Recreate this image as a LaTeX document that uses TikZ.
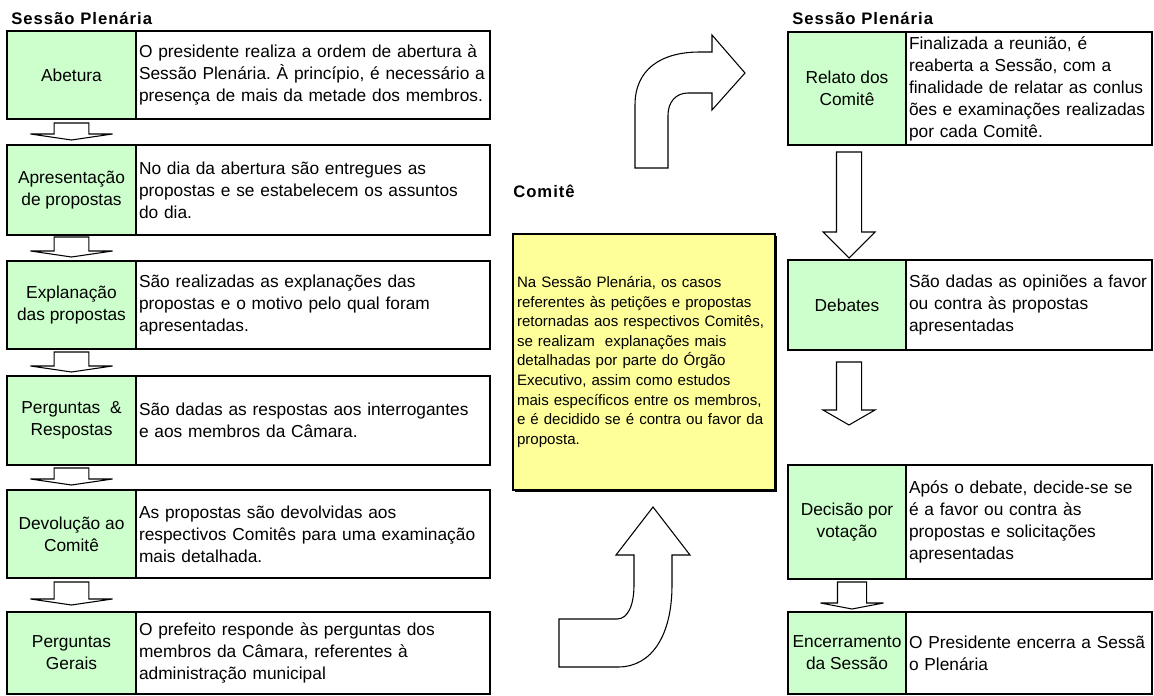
\documentclass[tikz,border=0pt]{standalone}
\usepackage{fontspec}
\setmainfont{Liberation Sans}
\newfontfamily\titlefont[LetterSpace=6]{Liberation Sans}
\usetikzlibrary{positioning,calc,shadows}
\frenchspacing

\definecolor{lblgreen}{HTML}{CCFFCC}
\definecolor{noteyellow}{HTML}{FFFF99}
\newcommand{\bodysize}{\fontsize{13pt}{16.5pt}\selectfont}
\newcommand{\notesize}{\fontsize{11.3pt}{14.7pt}\selectfont}

% hollow block arrow pointing down: start, tip, stem half, head half, head length
\newcommand{\blockdown}[5]{%
  \draw[blk] let \p1=#1, \p2=#2 in
    (\x1-#3,\y1) -- (\x1-#3,\y2+#5) -- (\x1-#4,\y2+#5) -- (\x1,\y2)
    -- (\x1+#4,\y2+#5) -- (\x1+#3,\y2+#5) -- (\x1+#3,\y1) -- cycle;}

\begin{document}
\begin{tikzpicture}[x=0.75pt,y=-0.75pt]
\tikzstyle{lbl}=[draw, line width=1.5pt, fill=lblgreen, outer sep=0pt, inner sep=2pt,
  align=center, anchor=north west, font=\bodysize]
\tikzstyle{lblL}=[lbl, minimum width=96.75pt]
\tikzstyle{lblR}=[lbl, minimum width=88.5pt]
\tikzstyle{txt}=[draw, line width=1.5pt, fill=white, outer sep=0pt, inner xsep=2.25pt,
  align=left, font=\bodysize]
\tikzstyle{txtL}=[txt, text width=261pt]
\tikzstyle{txtR}=[txt, text width=180pt]
\tikzstyle{ttl}=[inner sep=0pt, anchor=base west,
  font={\titlefont\fontsize{12.5pt}{15pt}\selectfont\bfseries}]
\tikzstyle{note}=[draw, line width=1.5pt, fill=noteyellow, outer sep=0pt, inner xsep=3pt,
  align=left, font=\notesize, drop shadow={shadow xshift=1.5pt, shadow yshift=-1.5pt, fill=black, opacity=1}]
\tikzstyle{blk}=[draw=black, fill=white, line width=0.8pt, line join=miter]

\useasboundingbox (0,0) rectangle (1154,696);

% left column
\node[ttl] (title-left) at (11,25) {Sessão Plenária};

\node[lblL, minimum height=66pt]    (abertura) at (7,31)  {Abetura};
\node[txtL, minimum height=66pt, right=0pt of abertura] (abertura-txt)
  {O presidente realiza a ordem de abertura à\\Sessão Plenária. À princípio, é necessário a\\presença de mais da metade dos membros.};

\node[lblL, minimum height=67.5pt]  (apresent) at (7,145) {Apresentação\\de propostas};
\node[txtL, minimum height=67.5pt, right=0pt of apresent] (apresent-txt)
  {No dia da abertura são entregues as\\propostas e se estabelecem os assuntos\\do dia.};

\node[lblL, minimum height=66pt]    (explan) at (7,261) {Explanação\\das propostas};
\node[txtL, minimum height=66pt, right=0pt of explan] (explan-txt)
  {São realizadas as explanações das\\propostas e o motivo pelo qual foram\\apresentadas.};

\node[lblL, minimum height=66.75pt] (perguntas) at (7,376) {Perguntas \ \&\\Respostas};
\node[txtL, minimum height=66.75pt, right=0pt of perguntas] (perguntas-txt)
  {São dadas as respostas aos interrogantes\\e aos membros da Câmara.};

\node[lblL, minimum height=66pt]    (devolucao) at (7,490) {Devolução ao\\Comitê};
\node[txtL, minimum height=66pt, right=0pt of devolucao] (devolucao-txt)
  {As propostas são devolvidas aos\\respectivos Comitês para uma examinação\\mais detalhada.};

\node[lblL, minimum height=61.5pt]  (gerais) at (7,612) {Perguntas\\Gerais};
\node[txtL, minimum height=61.5pt, right=0pt of gerais] (gerais-txt)
  {O prefeito responde às perguntas dos\\membros da Câmara, referentes à\\administração municipal};

\blockdown{($(abertura.south)+(0,4)$)}{($(apresent.north)+(0,-5)$)}{13pt}{30.75pt}{4.5pt}
\blockdown{($(apresent.south)+(0,2)$)}{($(explan.north)+(0,-4)$)}{13pt}{30.75pt}{4.5pt}
\blockdown{($(explan.south)+(0,3)$)}{($(perguntas.north)+(0,-4)$)}{13pt}{30.75pt}{4.5pt}
\blockdown{($(perguntas.south)+(0,3)$)}{($(devolucao.north)+(0,-5)$)}{13pt}{30.75pt}{4.5pt}
\blockdown{($(devolucao.south)+(0,4)$)}{($(gerais.north)+(0,-7)$)}{13pt}{30.75pt}{4.5pt}

% committee
\node[ttl] (title-comite) at (513,197) {Comitê};
\node[note, minimum height=192pt, text width=190.5pt] (comite-box) at (644,362)
  {Na Sessão Plenária, os casos\\referentes às petições e propostas\\retornadas aos respectivos Comitês,\\se realizam~ explanações mais\\detalhadas por parte do Órgão\\Executivo, assim como estudos\\mais específicos entre os membros,\\e é decidido se é contra ou favor da\\proposta.};

\draw[blk] (635,168) -- (635,105) .. controls (635,70) and (660,52) .. (700,52)
  -- (712,52) -- (712,35) -- (745,73) -- (712,110) -- (712,93) -- (688,93)
  .. controls (676,93) and (668,102) .. (668,115) -- (668,168) -- cycle;
\draw[blk] (559,619) -- (617,619) .. controls (628,619) and (634,605) .. (634,585)
  -- (634,555) -- (616,555) -- (653,507) -- (690,555) -- (672,555) -- (672,585)
  .. controls (672,635) and (652,667) .. (618,667) -- (559,667) -- cycle;

% right column
\node[ttl] (title-right) at (792,25) {Sessão Plenária};

\node[lblR, minimum height=84.75pt] (relato) at (788,32) {Relato dos\\Comitê};
\node[txtR, minimum height=84.75pt, right=0pt of relato] (relato-txt)
  {Finalizada a reunião, é\\reaberta a Sessão, com a\\finalidade de relatar as conlus\\ões e examinações realizadas\\por cada Comitê.};

\node[lblR, minimum height=67.5pt]  (debates) at (788,260) {Debates};
\node[txtR, minimum height=67.5pt, right=0pt of debates] (debates-txt)
  {São dadas as opiniões a favor\\ou contra às propostas\\apresentadas};

\node[lblR, minimum height=85.5pt]  (votacao) at (788,465) {Decisão por\\votação};
\node[txtR, minimum height=85.5pt, right=0pt of votacao] (votacao-txt)
  {Após o debate, decide-se se\\é a favor ou contra às\\propostas e solicitações\\apresentadas};

\node[lblR, minimum height=61.5pt]  (encerra) at (788,612) {Encerramento\\da Sessão};
\node[txtR, minimum height=61.5pt, right=0pt of encerra] (encerra-txt)
  {O Presidente encerra a Sessã\\o Plenária};

\blockdown{($(relato.south)+(2,7)$)}{($(debates.north)+(2,-2)$)}{9.4pt}{19.5pt}{19.5pt}
\blockdown{($(debates.south)+(2,12)$)}{($(debates.south)+(2,75)$)}{9.4pt}{19.5pt}{11.25pt}
\blockdown{($(votacao.south)+(5,3)$)}{($(encerra.north)+(5,-3)$)}{10.9pt}{23.6pt}{4.5pt}
\end{tikzpicture}
\end{document}
